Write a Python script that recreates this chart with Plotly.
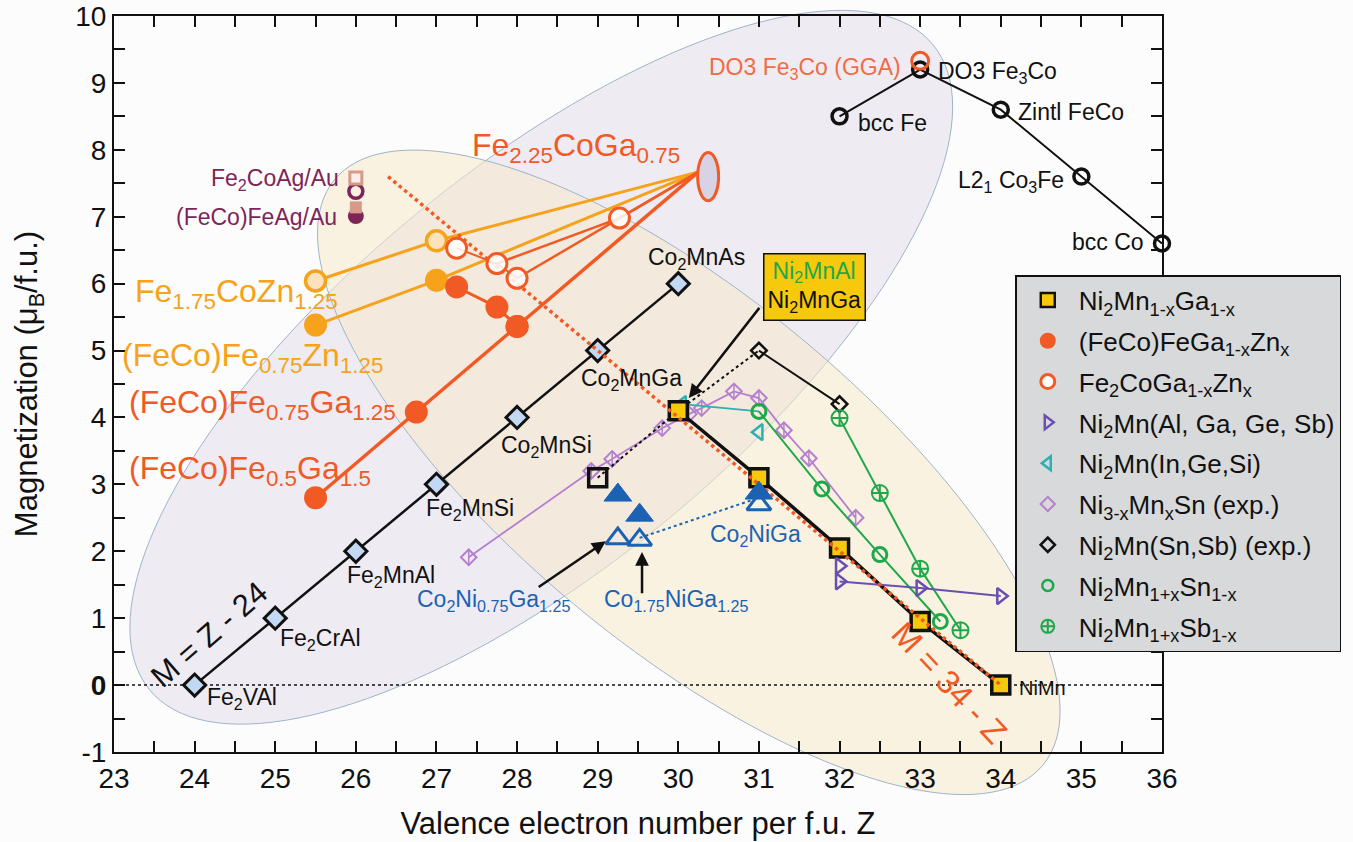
import math
import plotly.graph_objects as go

FONT = "Liberation Sans, Arial, Helvetica, sans-serif"
FIG_W, FIG_H = 1353, 842
MARGIN = dict(l=114, r=189, t=16, b=90)
PLOT_W = FIG_W - MARGIN["l"] - MARGIN["r"]
PLOT_H = FIG_H - MARGIN["t"] - MARGIN["b"]

X_RANGE = [23, 36]
Y_RANGE = [-1, 10]

# tick positions (every half unit) and their labels
x_tick_vals = [23, 23.5, 24, 24.5, 25, 25.5, 26, 26.5, 27, 27.5, 28, 28.5, 29, 29.5,
               30, 30.5, 31, 31.5, 32, 32.5, 33, 33.5, 34, 34.5, 35, 35.5, 36]
x_tick_text = ["23", "", "24", "", "25", "", "26", "", "27", "", "28", "", "29", "",
               "30", "", "31", "", "32", "", "33", "", "34", "", "35", "", "36"]
y_tick_vals = [-1, -0.5, 0, 0.5, 1, 1.5, 2, 2.5, 3, 3.5, 4, 4.5, 5, 5.5, 6, 6.5,
               7, 7.5, 8, 8.5, 9, 9.5, 10]
y_tick_text = ["-1", "", "<b>0</b>", "", "1", "", "2", "", "3", "", "4", "", "5", "",
               "6", "", "7", "", "8", "", "9", "", "10"]

# ---- data: valence electrons Z and magnetic moment M ----
# Slater-Pauling M = Z - 24 series
sp_z = [24, 25, 26, 27, 28, 29, 30]
sp_m = [0, 1, 2, 3, 4, 5, 6]

# Fe-Co binaries
feco_z = [32, 33, 34, 35, 36]
feco_m = [8.5, 9.2, 8.6, 7.6, 6.6]
do3_gga_z = [33]
do3_gga_m = [9.33]

# Ni2Mn1-xGa1-x
nmg_z = [30, 31, 32, 33, 34]
nmg_m = [4.1, 3.1, 2.05, 0.95, 0.0]
nmg_open_z = [29]
nmg_open_m = [3.1]

# (FeCo)FeGa1-xZnx
fcg_z = [25.5, 26.75, 28.0]
fcg_m = [2.8, 4.08, 5.36]
fcgz_z = [27.25, 27.75, 28.0]
fcgz_m = [5.95, 5.65, 5.36]

# Fe2CoGa1-xZnx
fcz_z = [27.25, 27.75, 28.0]
fcz_m = [6.53, 6.3, 6.08]
fcz_hi_z = [29.27]
fcz_hi_m = [6.98]

# Fe1.75CoZn1.25 and (FeCo)Fe0.75Zn1.25
fczn_z = [25.5, 27.0]
fczn_m = [6.04, 6.64]
fcfz_z = [25.5, 27.0]
fcfz_m = [5.38, 6.05]

# Fe2.25CoGa0.75 (common end point of the Fe-Co-Ga/Zn lines)
hub_z = 30.25
hub_m = 7.67
hub_center = (30.37, 7.6)
hub_half = (0.13, 0.36)

# Fe2CoAg/Au and (FeCo)FeAg/Au
ag_z = [26.0]
ag_sq_m = [7.58]
ag_ci_m = [7.38]
agf_sq_m = [7.14]
agf_ci_m = [7.01]

# Ni2Mn(Al, Ga, Ge, Sb)
nm_algs_z = [32, 32, 33, 34]
nm_algs_m = [1.78, 1.55, 1.45, 1.33]
nm_algs_line_z = [32, 33, 34]
nm_algs_line_m = [1.55, 1.45, 1.33]

# Ni2Mn(In, Ge, Si)
nm_igs_z = [30.05, 31.0]
nm_igs_m = [4.2, 3.78]
nm_igs_line_z = [30.05, 31.0]
nm_igs_line_m = [4.2, 4.09]

# Ni3-xMnxSn (exp.)
nms_z = [27.4, 28.92, 29.18, 29.8, 30.13, 30.29, 30.69, 31.0, 31.31, 31.62, 32.2]
nms_m = [1.91, 3.2, 3.38, 3.84, 4.05, 4.14, 4.39, 4.29, 3.81, 3.39, 2.5]

# Ni2Mn(Sn,Sb) (exp.)
nmsb_z = [31, 32]
nmsb_m = [5.0, 4.2]
nmsb_link_z = [30, 31]
nmsb_link_m = [4.1, 5.0]

# Ni2Mn1+xSn1-x and Ni2Mn1+xSb1-x
nsn_z = [31, 31.78, 32.5, 33.25]
nsn_m = [4.09, 2.93, 1.95, 0.95]
nsb_z = [32, 32.5, 33, 33.5]
nsb_m = [3.99, 2.87, 1.74, 0.82]

# Co-Ni-Ga compounds
cng_fill_z = [29.25, 29.52, 31.0]
cng_fill_m = [2.84, 2.54, 2.87]
cng_open_z = [29.25, 29.52, 31.0]
cng_open_m = [2.19, 2.17, 2.7]
cng_link_z = [29.52, 31.0]
cng_link_m = [2.2, 2.8]

# reference lines
rule34_z = [26.4, 34]
rule34_m = [7.6, 0]
zero_z = [23, 36]
zero_m = [0, 0]

# colours
RED = "#f15a24"
ORANGE = "#f7a21b"
BLACK = "#111111"
LILAC = "#b57fcf"
TEAL = "#2bb0b3"
VIOLET = "#6a4fb0"
GREEN = "#1fa84a"
BLUE = "#1c62b3"
GOLD = "#f7c90c"
MAROON = "#7e2557"
SALMON = "#d79a8a"


def line_trace(x, y, color, width, dash="solid"):
    return go.Scatter(x=x, y=y, mode="lines", line=dict(color=color, width=width, dash=dash),
                      showlegend=False, hoverinfo="skip")


def marker_trace(x, y, symbol, size, fill, edge, edge_w, mode="markers", line=None):
    t = go.Scatter(x=x, y=y, mode=mode, showlegend=False, cliponaxis=False,
                   marker=dict(symbol=symbol, size=size, color=fill,
                               line=dict(color=edge, width=edge_w)))
    if line is not None:
        t.line = line
    return t


fig = go.Figure()

# zero line
fig.add_trace(line_trace(zero_z, zero_m, BLACK, 1.5, dash="dot"))

# Fe-Co-Ga/Zn fan of lines towards Fe2.25CoGa0.75
fig.add_trace(line_trace(fczn_z + [hub_z], fczn_m + [hub_m], ORANGE, 3))
fig.add_trace(line_trace(fcfz_z + [hub_z], fcfz_m + [hub_m], ORANGE, 3))
fig.add_trace(line_trace(fcg_z + [hub_z], fcg_m + [hub_m], RED, 3.5))
fig.add_trace(line_trace([fcz_z[1]] + fcz_hi_z + [hub_z], [fcz_m[1]] + fcz_hi_m + [hub_m], RED, 2.5))
fig.add_trace(line_trace([fcz_z[2], hub_z], [fcz_m[2], hub_m], RED, 2.5))
fig.add_trace(line_trace(fcgz_z, fcgz_m, RED, 3))
fig.add_trace(line_trace(fcz_z, fcz_m, RED, 2))

# M = Z - 24 series
fig.add_trace(marker_trace(sp_z, sp_m, "diamond", 17, "#c3d8f2", BLACK, 3, mode="lines+markers",
                           line=dict(color=BLACK, width=2.5)))

# Fe-Co binaries
fig.add_trace(marker_trace(feco_z, feco_m, "circle", 15, "rgba(255,255,255,0)", BLACK, 3.5,
                           mode="lines+markers", line=dict(color=BLACK, width=2)))
fig.add_trace(marker_trace(do3_gga_z, do3_gga_m, "circle-open", 17, RED, RED, 3))

# Ni3-xMnxSn
fig.add_trace(marker_trace(nms_z, nms_m, "diamond-open", 12, LILAC, LILAC, 2,
                           mode="lines+markers", line=dict(color=LILAC, width=1.8)))
fig.add_trace(marker_trace(nms_z, nms_m, "line-ns-open", 11, LILAC, LILAC, 1.5))

# Ni2Mn(Sn,Sb)
fig.add_trace(line_trace(nmsb_link_z, nmsb_link_m, BLACK, 2, dash="dot"))
fig.add_trace(marker_trace(nmsb_z, nmsb_m, "diamond-open", 12, BLACK, BLACK, 2.5,
                           mode="lines+markers", line=dict(color=BLACK, width=2)))

# Ni2Mn(In,Ge,Si)
fig.add_trace(line_trace(nm_igs_line_z, nm_igs_line_m, TEAL, 1.8))
fig.add_trace(marker_trace(nm_igs_z, nm_igs_m, "triangle-left-open", 14, TEAL, TEAL, 2.5))

# Ni2Mn1+xSn1-x, Ni2Mn1+xSb1-x
fig.add_trace(marker_trace(nsn_z, nsn_m, "circle", 14, "rgba(255,255,255,0)", GREEN, 3,
                           mode="lines+markers", line=dict(color=GREEN, width=2)))
fig.add_trace(marker_trace(nsb_z, nsb_m, "circle-cross-open", 16, GREEN, GREEN, 2,
                           mode="lines+markers", line=dict(color=GREEN, width=2)))

# Ni2Mn1-xGa1-x
fig.add_trace(line_trace(nmg_open_z + [nmg_z[0]], nmg_open_m + [nmg_m[0]], BLACK, 2, dash="dot"))
fig.add_trace(marker_trace(nmg_z, nmg_m, "square", 18, GOLD, BLACK, 3.5,
                           mode="lines+markers", line=dict(color=BLACK, width=3.5)))
fig.add_trace(marker_trace(nmg_open_z, nmg_open_m, "square", 18, "rgba(255,255,255,0)", BLACK, 3.5))

# Ni2Mn(Al,Ga,Ge,Sb)
fig.add_trace(line_trace(nm_algs_line_z, nm_algs_line_m, VIOLET, 2))
fig.add_trace(marker_trace(nm_algs_z, nm_algs_m, "triangle-right-open", 14, VIOLET, VIOLET, 2.5))

# M = 34 - Z guide (drawn over the Ni2Mn-Ga line)
fig.add_trace(line_trace(rule34_z, rule34_m, RED, 3.5, dash="dot"))

# Co-Ni-Ga
fig.add_trace(line_trace(cng_link_z, cng_link_m, BLUE, 2, dash="dot"))
fig.add_trace(marker_trace(cng_fill_z, cng_fill_m, "triangle-up", 24, BLUE, BLUE, 1))
fig.add_trace(marker_trace(cng_open_z, cng_open_m, "triangle-up-open", 21, BLUE, BLUE, 3))

# Fe-Co-Ga/Zn markers
fig.add_trace(marker_trace(fczn_z, fczn_m, "circle", 20, "#fde2bb", ORANGE, 3.5))
fig.add_trace(marker_trace(fcfz_z, fcfz_m, "circle", 23, ORANGE, ORANGE, 0))
fig.add_trace(marker_trace(fcg_z, fcg_m, "circle", 23, RED, RED, 0))
fig.add_trace(marker_trace(fcgz_z, fcgz_m, "circle", 23, RED, RED, 0))
fig.add_trace(marker_trace(fcz_z + fcz_hi_z, fcz_m + fcz_hi_m, "circle", 20, "rgba(255,255,255,0.85)", RED, 3))

# Fe2CoAg/Au and (FeCo)FeAg/Au
fig.add_trace(marker_trace(ag_z, ag_ci_m, "circle-open", 14, MAROON, MAROON, 3.5))
fig.add_trace(marker_trace(ag_z, ag_sq_m, "square", 12, "#fbeee8", SALMON, 3))
fig.add_trace(marker_trace(ag_z, agf_ci_m, "circle", 16, MAROON, MAROON, 0))
fig.add_trace(marker_trace(ag_z, agf_sq_m, "square", 12, SALMON, SALMON, 0))

# legend entries
legend_items = [
    ("Ni<sub>2</sub>Mn<sub>1-x</sub>Ga<sub>1-x</sub>", "square", 14, GOLD, BLACK, 2.5),
    ("(FeCo)FeGa<sub>1-x</sub>Zn<sub>x</sub>", "circle", 16, RED, RED, 0),
    ("Fe<sub>2</sub>CoGa<sub>1-x</sub>Zn<sub>x</sub>", "circle", 14, "white", RED, 3),
    ("Ni<sub>2</sub>Mn(Al, Ga, Ge, Sb)", "triangle-right-open", 12, VIOLET, VIOLET, 2.5),
    ("Ni<sub>2</sub>Mn(In,Ge,Si)", "triangle-left-open", 12, TEAL, TEAL, 2.5),
    ("Ni<sub>3-x</sub>Mn<sub>x</sub>Sn (exp.)", "diamond-open", 11, LILAC, LILAC, 2),
    ("Ni<sub>2</sub>Mn(Sn,Sb) (exp.)", "diamond-open", 11, BLACK, BLACK, 2.5),
    ("Ni<sub>2</sub>Mn<sub>1+x</sub>Sn<sub>1-x</sub>", "circle-open", 11, GREEN, GREEN, 2.5),
    ("Ni<sub>2</sub>Mn<sub>1+x</sub>Sb<sub>1-x</sub>", "circle-cross-open", 13, GREEN, GREEN, 2),
]
for i, (name, sym, size, fill, edge, ew) in enumerate(legend_items):
    fig.add_trace(go.Scatter(x=[None], y=[None], mode="markers", name=name, legendgroup=f"g{i}",
                             marker=dict(symbol=sym, size=size, color=fill,
                                         line=dict(color=edge, width=ew))))


def ellipse_path(cx, cy, semi_major, semi_minor, tilt_deg, n=160):
    """Closed path in paper units; centre in data units, semi-axes in screen pixels."""
    px0 = (cx - X_RANGE[0]) / (X_RANGE[1] - X_RANGE[0]) * PLOT_W
    py0 = (cy - Y_RANGE[0]) / (Y_RANGE[1] - Y_RANGE[0]) * PLOT_H
    t = math.radians(tilt_deg)
    pts = []
    for k in range(n):
        a = 2 * math.pi * k / n
        ex, ey = semi_major * math.cos(a), semi_minor * math.sin(a)
        x = px0 + ex * math.cos(t) - ey * math.sin(t)
        y = py0 + ex * math.sin(t) + ey * math.cos(t)
        pts.append((x / PLOT_W, y / PLOT_H))
    return "M " + " L ".join(f"{x:.5f},{y:.5f}" for x, y in pts) + " Z"


shapes = [
    dict(type="path", xref="paper", yref="paper", layer="below",
         path=ellipse_path(28.30, 4.75, 508, 198, 39.4),
         fillcolor="rgba(215,201,222,0.34)", line=dict(color="#9fb4c8", width=1)),
    dict(type="path", xref="paper", yref="paper", layer="below",
         path=ellipse_path(30.13, 3.18, 460, 175, -39.5),
         fillcolor="rgba(245,233,203,0.55)", line=dict(color="#9fb4c8", width=1)),
    dict(type="circle", xref="x", yref="y", layer="above",
         x0=hub_center[0] - hub_half[0], x1=hub_center[0] + hub_half[0],
         y0=hub_center[1] - hub_half[1], y1=hub_center[1] + hub_half[1],
         fillcolor="#d8d2e5", line=dict(color=RED, width=3)),
]


def label(text, x, y, color=BLACK, size=23, anchor="left", angle=0, **kw):
    return dict(text=text, x=x, y=y, xref="x", yref="y", showarrow=False,
                xanchor=anchor, yanchor="middle", textangle=angle,
                font=dict(family=FONT, size=size, color=color), **kw)


def arrow(x, y, ax, ay):
    return dict(text="", x=x, y=y, ax=ax, ay=ay, xref="x", yref="y", axref="x", ayref="y",
                showarrow=True, arrowhead=2, arrowsize=1.1, arrowwidth=2.5,
                arrowcolor=BLACK, standoff=0)


annotations = [
    label("Fe<sub>2</sub>VAl", 24.13, -0.2),
    label("Fe<sub>2</sub>CrAl", 25.03, 0.68),
    label("Fe<sub>2</sub>MnAl", 25.86, 1.62),
    label("Fe<sub>2</sub>MnSi", 26.85, 2.62),
    label("Co<sub>2</sub>MnSi", 27.78, 3.56),
    label("Co<sub>2</sub>MnGa", 28.77, 4.56),
    label("Co<sub>2</sub>MnAs", 29.6, 6.37),
    label("bcc Fe", 32.21, 8.4),
    label("DO3 Fe<sub>3</sub>Co", 33.2, 9.16),
    label("Zintl FeCo", 34.19, 8.57),
    label("L2<sub>1</sub> Co<sub>3</sub>Fe", 34.81, 7.52, anchor="right"),
    label("bcc Co", 35.8, 6.62, anchor="right"),
    label("NiMn", 34.2, -0.05, size=20),
    label("Fe<sub>2</sub>CoAg/Au", 25.81, 7.55, color=MAROON, size=23, anchor="right"),
    label("(FeCo)FeAg/Au", 25.79, 7.0, color=MAROON, size=23, anchor="right"),
    label("Co<sub>2</sub>NiGa", 30.96, 2.24, color=BLUE, anchor="center"),
    label("Co<sub>2</sub>Ni<sub>0.75</sub>Ga<sub>1.25</sub>", 26.73, 1.27, color=BLUE),
    label("Co<sub>1.75</sub>NiGa<sub>1.25</sub>", 29.05, 1.27, color=BLUE),
    label("DO3 Fe<sub>3</sub>Co (GGA)", 32.79, 9.22, color="#f26b43", size=23, anchor="right"),
    label("Fe<sub>2.25</sub>CoGa<sub>0.75</sub>", 27.41, 8.03, color=RED, size=32),
    label("Fe<sub>1.75</sub>CoZn<sub>1.25</sub>", 23.24, 5.86, color=ORANGE, size=32),
    label("(FeCo)Fe<sub>0.75</sub>Zn<sub>1.25</sub>", 23.07, 4.89, color=ORANGE, size=32),
    label("(FeCo)Fe<sub>0.75</sub>Ga<sub>1.25</sub>", 23.16, 4.19, color=RED, size=32),
    label("(FeCo)Fe<sub>0.5</sub>Ga<sub>1.5</sub>", 23.16, 3.21, color=RED, size=32),
    label("M = Z - 24", 24.18, 0.76, size=31, anchor="center", angle=-41),
    label("M = 34 - Z", 33.36, 0.04, color=RED, size=33, anchor="center", angle=47),
    label("<span style='color:#1fa84a'>Ni<sub>2</sub>MnAl</span><br>Ni<sub>2</sub>MnGa",
          31.69, 5.95, size=23, anchor="center", bgcolor=GOLD, bordercolor=BLACK,
          borderwidth=1.5, borderpad=3),
    arrow(30.13, 4.29, 31.02, 5.66),
    arrow(29.1, 2.15, 28.25, 1.45),
    arrow(29.55, 1.99, 29.55, 1.35),
]

axis_common = dict(ticks="inside", ticklen=11, tickwidth=2, tickcolor=BLACK,
                   showline=True, linewidth=2, linecolor=BLACK, mirror="ticks",
                   showgrid=False, zeroline=False, automargin=False,
                   tickfont=dict(family=FONT, size=28, color=BLACK))

fig.update_layout(
    width=FIG_W, height=FIG_H, autosize=False, margin=MARGIN,
    paper_bgcolor="#fcfcfd", plot_bgcolor="rgba(0,0,0,0)",
    font=dict(family=FONT, color=BLACK),
    xaxis=dict(range=X_RANGE, tickmode="array", tickvals=x_tick_vals, ticktext=x_tick_text,
               title=dict(text="Valence electron number per f.u. Z", standoff=20,
                          font=dict(family=FONT, size=31, color=BLACK)),
               **axis_common),
    yaxis=dict(range=Y_RANGE, tickmode="array", tickvals=y_tick_vals, ticktext=y_tick_text,
               title=dict(text="Magnetization (\u03bc<sub>B</sub>/f.u.)", standoff=28,
                          font=dict(family=FONT, size=31, color=BLACK)),
               **axis_common),
    shapes=shapes,
    annotations=annotations,
    legend=dict(x=0.86, y=0.648, xanchor="left", yanchor="top", bgcolor="#d8d9db",
                bordercolor=BLACK, borderwidth=1.5, tracegroupgap=4,
                font=dict(family=FONT, size=26, color=BLACK), itemwidth=52),
    showlegend=True,
)

fig.write_html("out.html")
